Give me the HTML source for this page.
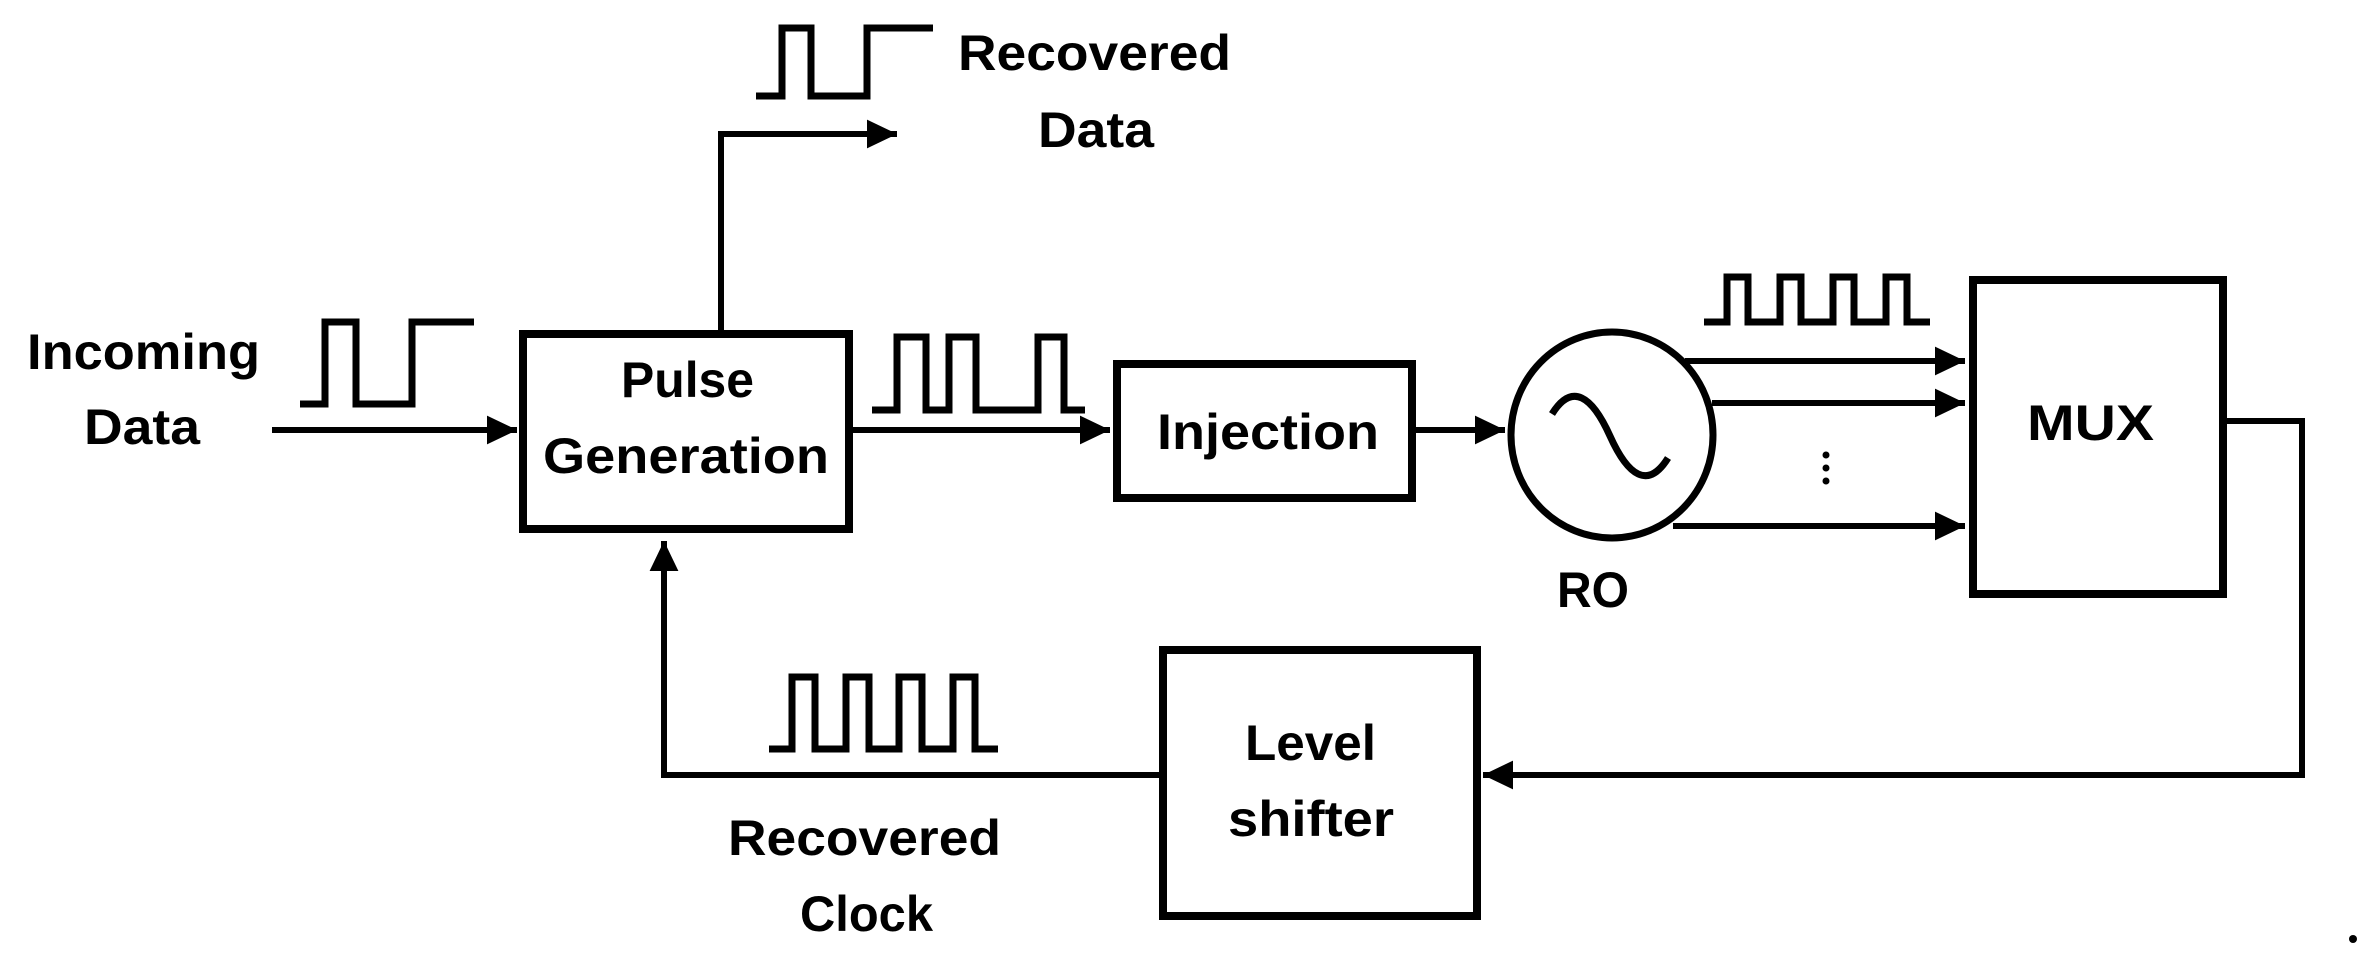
<!DOCTYPE html>
<html><head><meta charset="utf-8"><style>html,body{margin:0;padding:0;background:#fff}svg{display:block}</style></head>
<body>
<svg width="2376" height="957" viewBox="0 0 2376 957" xmlns="http://www.w3.org/2000/svg">
<defs>
<marker id="a" markerWidth="6" markerHeight="6" refX="5" refY="3" orient="auto" markerUnits="strokeWidth">
<path d="M0,0.6 L5,3 L0,5.4 Z" fill="#000"/></marker>
</defs>
<g fill="none" stroke="#000" stroke-width="8">
<rect x="523" y="334" width="326" height="195"/>
<rect x="1117" y="364" width="295" height="134"/>
<rect x="1973" y="280" width="250" height="314"/>
<rect x="1163" y="650" width="314" height="266"/>
<ellipse cx="1612" cy="435" rx="101" ry="103" stroke-width="7"/>
<path d="M1552,414 C1572,382 1592,396 1610,436 C1628,476 1648,490 1668,458" stroke-width="7"/>
</g>
<g fill="none" stroke="#000" stroke-width="7" stroke-linejoin="miter">
<path d="M300,404 H325 V322 H356 V404 H412 V322 H474"/>
<path d="M756,96 H782 V28 H811 V96 H867 V28 H933"/>
<path d="M872,410 H897 V337 H926 V410 H949 V337 H976 V410 H1038 V337 H1064 V410 H1085"/>
<path d="M769,749 H792 V677 H815 V749 H846 V677 H869 V749 H899 V677 H922 V749 H953 V677 H975 V749 H998"/>
<path d="M1704,322 H1727 V277 H1748 V322 H1780 V277 H1801 V322 H1833 V277 H1854 V322 H1886 V277 H1907 V322 H1930"/>
</g>
<g fill="none" stroke="#000" stroke-width="6">
<path d="M272,430 H517" marker-end="url(#a)"/>
<path d="M721,330 V134 H897" marker-end="url(#a)"/>
<path d="M849,430 H1110" marker-end="url(#a)"/>
<path d="M1412,430 H1505" marker-end="url(#a)"/>
<path d="M1685,361 H1965" marker-end="url(#a)"/>
<path d="M1712,403 H1965" marker-end="url(#a)"/>
<path d="M1673,526 H1965" marker-end="url(#a)"/>
<path d="M2223,421 H2302 V775 H1483" marker-end="url(#a)"/>
<path d="M1163,775 H664 V541" marker-end="url(#a)"/>
</g>
<g fill="#000">
<circle cx="1826" cy="455" r="3.5"/><circle cx="1826" cy="468" r="3.5"/><circle cx="1826" cy="481" r="3.5"/>
<circle cx="2353" cy="939" r="4"/>
</g>
<g font-family="'Liberation Sans',sans-serif" font-weight="bold" font-size="50" fill="#000">
<text x="27" y="369" textLength="233" lengthAdjust="spacingAndGlyphs">Incoming</text>
<text x="84" y="444" textLength="116" lengthAdjust="spacingAndGlyphs">Data</text>
<text x="958" y="70" textLength="273" lengthAdjust="spacingAndGlyphs">Recovered</text>
<text x="1038" y="147" textLength="116" lengthAdjust="spacingAndGlyphs">Data</text>
<text x="621" y="397" textLength="133" lengthAdjust="spacingAndGlyphs">Pulse</text>
<text x="543" y="473" textLength="286" lengthAdjust="spacingAndGlyphs">Generation</text>
<text x="1157" y="449" textLength="222" lengthAdjust="spacingAndGlyphs">Injection</text>
<text x="2027" y="440" textLength="127" lengthAdjust="spacingAndGlyphs">MUX</text>
<text x="1557" y="607" textLength="72" lengthAdjust="spacingAndGlyphs">RO</text>
<text x="1245" y="760" textLength="131" lengthAdjust="spacingAndGlyphs">Level</text>
<text x="1228" y="836" textLength="166" lengthAdjust="spacingAndGlyphs">shifter</text>
<text x="728" y="855" textLength="273" lengthAdjust="spacingAndGlyphs">Recovered</text>
<text x="800" y="931" textLength="133" lengthAdjust="spacingAndGlyphs">Clock</text>
</g>
</svg>
</body></html>
